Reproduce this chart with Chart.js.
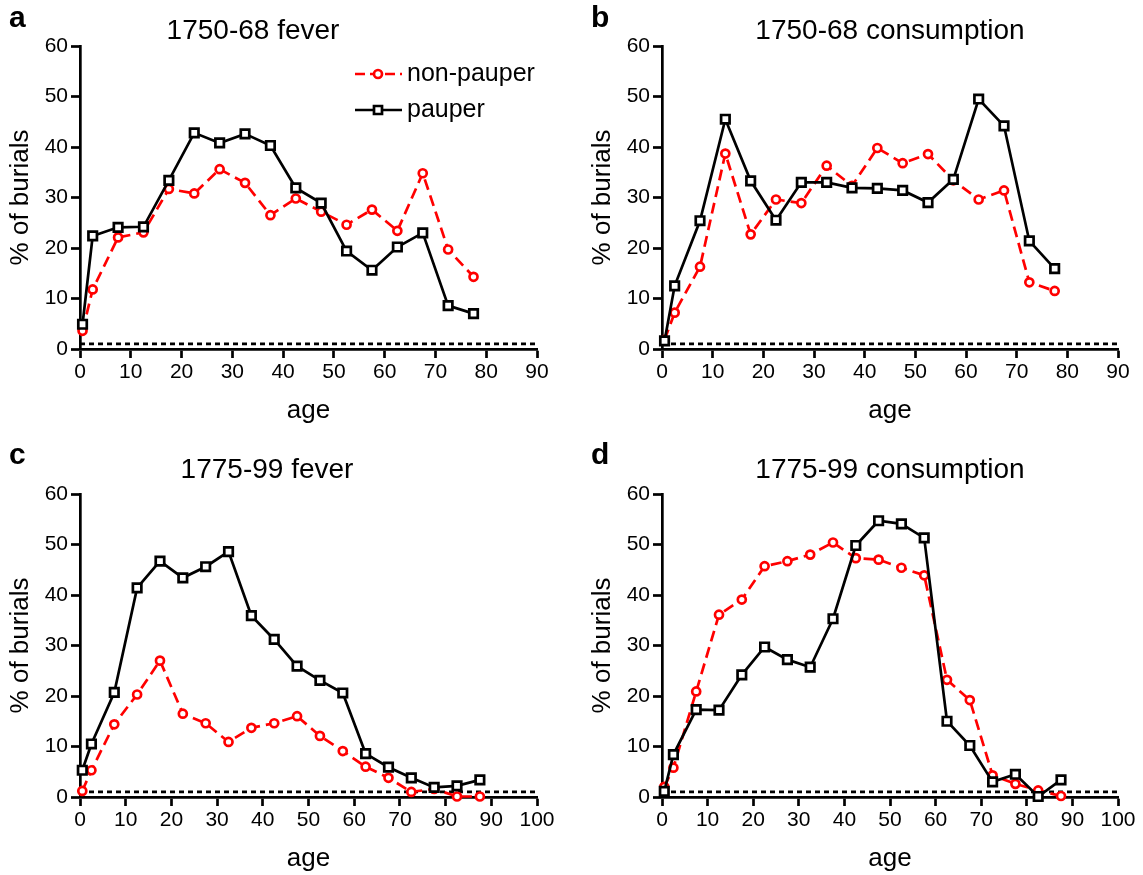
<!DOCTYPE html>
<html lang="en">
<head>
    <meta charset="UTF-8">
    <title>Burials by age</title>
    <script src="https://cdn.jsdelivr.net/npm/chart.js"></script>
    <style>
        body { margin: 0; background: #fff; width: 1143px; height: 875px; position: relative; overflow: hidden; }
        .panel { position: absolute; }
    </style>
</head>
<body>
<div class="panel" style="left:0;top:0;width:571px;height:427px;"><canvas id="chart-a"></canvas></div>
<div class="panel" style="left:582px;top:0;width:561px;height:427px;"><canvas id="chart-b"></canvas></div>
<div class="panel" style="left:0;top:440px;width:571px;height:435px;"><canvas id="chart-c"></canvas></div>
<div class="panel" style="left:582px;top:440px;width:561px;height:435px;"><canvas id="chart-d"></canvas></div>

<script>
    // age group midpoints
    const ages1750 = [0.5, 2.5, 7.5, 12.5, 17.5, 22.5, 27.5, 32.5, 37.5, 42.5, 47.5, 52.5, 57.5, 62.5, 67.5, 72.5, 77.5];
    const ages1775 = [0.5, 2.5, 7.5, 12.5, 17.5, 22.5, 27.5, 32.5, 37.5, 42.5, 47.5, 52.5, 57.5, 62.5, 67.5, 72.5, 77.5, 82.5, 87.5];

    // a: 1750-68 fever
    const feverNonPauper1750 = [3.6, 11.8, 22.1, 23.1, 31.7, 30.8, 35.6, 32.9, 26.5, 29.8, 27.2, 24.6, 27.6, 23.4, 34.8, 19.7, 14.3];
    const feverPauper1750 = [4.9, 22.4, 24.1, 24.2, 33.4, 42.8, 40.8, 42.6, 40.3, 31.9, 28.9, 19.4, 15.6, 20.2, 23.0, 8.6, 7.0];

    // b: 1750-68 consumption
    const consNonPauper1750 = [1.8, 7.2, 16.3, 38.7, 22.7, 29.6, 28.9, 36.3, 32.3, 39.8, 36.8, 38.6, 33.4, 29.6, 31.4, 13.2, 11.5];
    const consPauper1750 = [1.6, 12.5, 25.4, 45.5, 33.3, 25.5, 33.0, 33.0, 31.9, 31.8, 31.4, 29.0, 33.6, 49.5, 44.2, 21.4, 15.9];

    // c: 1775-99 fever
    const feverNonPauper1775 = [1.2, 5.3, 14.4, 20.3, 27.0, 16.5, 14.6, 10.9, 13.7, 14.6, 16.0, 12.1, 9.1, 6.0, 3.8, 1.0, 1.6, 0.1, 0.1];
    const feverPauper1775 = [5.3, 10.5, 20.7, 41.4, 46.7, 43.4, 45.6, 48.6, 35.9, 31.2, 25.9, 23.1, 20.6, 8.6, 5.9, 3.8, 1.9, 2.2, 3.4];

    // d: 1775-99 consumption
    const consNonPauper1775 = [2.0, 5.8, 20.9, 36.1, 39.1, 45.7, 46.7, 48.0, 50.4, 47.3, 47.0, 45.4, 43.9, 23.2, 19.2, 4.3, 2.6, 1.3, 0.2];
    const consPauper1775 = [1.1, 8.4, 17.3, 17.2, 24.2, 29.7, 27.2, 25.7, 35.3, 49.8, 54.7, 54.1, 51.3, 15.0, 10.2, 3.0, 4.5, 0.1, 3.4];

    const refLevel = 1;
    const seriesNames = ['non-pauper', 'pauper'];

    const FONT = '"Liberation Sans", Arial, Helvetica, sans-serif';
    const RED = '#ff0000';
    const LW = 2.7;

    function pts(xs, ys) {
        return ys.map((y, i) => ({x: xs[i], y: y}));
    }

    const panelText = {
        id: 'panelText',
        afterDraw(chart, args, o) {
            const ctx = chart.ctx;
            ctx.save();
            ctx.fillStyle = '#000';
            ctx.textBaseline = 'middle';
            ctx.textAlign = 'left';
            ctx.font = 'bold 30px ' + FONT;
            ctx.fillText(o.letter, 9, o.letterY);
            ctx.textAlign = 'center';
            ctx.font = '28px ' + FONT;
            ctx.fillText(o.title, o.titleX, o.titleY);

            if (o.legend) {
                const rows = [
                    {name: seriesNames[0], color: RED, dash: [10, 5], y: 74, shape: 'circle'},
                    {name: seriesNames[1], color: '#000', dash: [], y: 110, shape: 'rect'}
                ];
                rows.forEach(r => {
                    ctx.strokeStyle = r.color;
                    ctx.lineWidth = LW;
                    ctx.setLineDash(r.dash);
                    ctx.beginPath();
                    ctx.moveTo(355, r.y);
                    ctx.lineTo(402, r.y);
                    ctx.stroke();
                    ctx.setLineDash([]);
                    ctx.fillStyle = '#fff';
                    ctx.beginPath();
                    if (r.shape === 'circle') {
                        ctx.arc(378, r.y, 4, 0, Math.PI * 2);
                    } else {
                        ctx.rect(374, r.y - 4, 8, 8);
                    }
                    ctx.fill();
                    ctx.stroke();
                    ctx.fillStyle = '#000';
                    ctx.textAlign = 'left';
                    ctx.font = '25px ' + FONT;
                    ctx.fillText(r.name, 407, r.y);
                });
            }
            ctx.restore();
        }
    };

    function axisStyle(max, titleText, titlePad) {
        return {
            type: 'linear',
            min: 0,
            max: max,
            border: {display: true, color: '#000', width: LW},
            grid: {
                display: true,
                drawOnChartArea: false,
                drawTicks: true,
                tickLength: 9,
                tickWidth: LW,
                tickColor: '#000',
                color: '#000'
            },
            ticks: {
                stepSize: 10,
                color: '#000',
                font: {family: FONT, size: 21},
                padding: 2,
                maxRotation: 0,
                autoSkip: false
            },
            title: {
                display: true,
                text: titleText,
                color: '#000',
                font: {family: FONT, size: 26},
                padding: titlePad
            }
        };
    }

    function makePanel(id, cfg) {
        const x = axisStyle(cfg.xMax, 'age', {top: 0, bottom: 1});
        x.afterFit = s => { s.height = cfg.xHeight; };
        const y = axisStyle(60, '% of burials', {top: 5, bottom: 0});
        y.afterFit = s => { s.width = 80; };
        y.ticks.padding = 3;

        return new Chart(document.getElementById(id), {
            type: 'line',
            data: {
                datasets: [
                    {
                        label: seriesNames[1],
                        data: pts(cfg.ages, cfg.pauper),
                        borderColor: '#000',
                        borderWidth: LW,
                        pointStyle: 'rect',
                        pointRadius: 6,
                        pointBorderWidth: LW,
                        pointBackgroundColor: '#fff',
                        pointBorderColor: '#000',
                        tension: 0,
                        order: 0
                    },
                    {
                        label: seriesNames[0],
                        data: pts(cfg.ages, cfg.nonPauper),
                        borderColor: RED,
                        borderWidth: LW,
                        borderDash: [11, 6],
                        pointStyle: 'circle',
                        pointRadius: 4,
                        pointBorderWidth: LW,
                        pointBackgroundColor: '#fff',
                        pointBorderColor: RED,
                        tension: 0,
                        order: 1
                    },
                    {
                        label: 'reference',
                        data: [{x: 0, y: refLevel}, {x: cfg.xMax, y: refLevel}],
                        borderColor: '#000',
                        borderWidth: LW,
                        borderDash: [5, 4],
                        pointRadius: 0,
                        order: 2
                    }
                ]
            },
            options: {
                responsive: true,
                maintainAspectRatio: false,
                animation: false,
                clip: false,
                layout: {padding: {left: 0, top: cfg.padTop, right: cfg.padRight, bottom: 0}},
                scales: {x: x, y: y},
                plugins: {
                    legend: {display: false},
                    tooltip: {enabled: false},
                    title: {display: false},
                    panelText: cfg.text
                }
            },
            plugins: [panelText]
        });
    }

    makePanel('chart-a', {
        ages: ages1750, nonPauper: feverNonPauper1750, pauper: feverPauper1750,
        xMax: 90, padTop: 46, padRight: 34, xHeight: 78,
        text: {letter: 'a', letterY: 19, title: '1750-68 fever', titleX: 253, titleY: 31, legend: true}
    });
    makePanel('chart-b', {
        ages: ages1750, nonPauper: consNonPauper1750, pauper: consPauper1750,
        xMax: 90, padTop: 46, padRight: 25, xHeight: 78,
        text: {letter: 'b', letterY: 19, title: '1750-68 consumption', titleX: 308, titleY: 31}
    });
    makePanel('chart-c', {
        ages: ages1775, nonPauper: feverNonPauper1775, pauper: feverPauper1775,
        xMax: 100, padTop: 54, padRight: 34, xHeight: 78,
        text: {letter: 'c', letterY: 16, title: '1775-99 fever', titleX: 267, titleY: 30}
    });
    makePanel('chart-d', {
        ages: ages1775, nonPauper: consNonPauper1775, pauper: consPauper1775,
        xMax: 100, padTop: 54, padRight: 25, xHeight: 78,
        text: {letter: 'd', letterY: 16, title: '1775-99 consumption', titleX: 308, titleY: 30}
    });
</script>
</body>
</html>
